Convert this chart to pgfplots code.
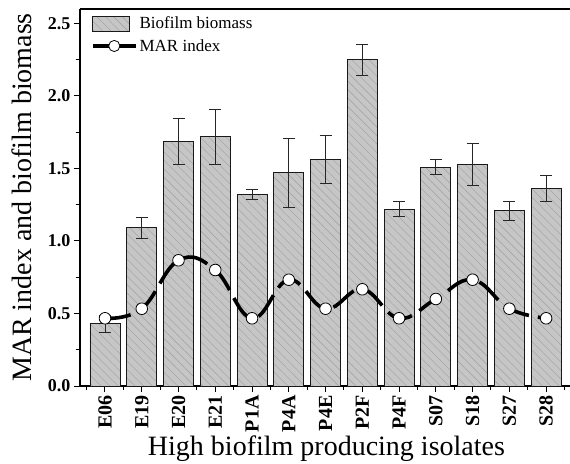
\documentclass[border=0pt]{standalone}
\usepackage{pgfplots}
\pgfplotsset{compat=1.18}
\usepackage{pgfplotstable}
\usepackage{fontspec}
\setmainfont{Liberation Serif}
\usetikzlibrary{patterns.meta}

\pgfplotstableread{
x y e
0 0.43 0.06
1 1.09 0.07
2 1.685 0.16
3 1.72 0.19
4 1.32 0.035
5 1.47 0.24
6 1.56 0.165
7 2.25 0.105
8 1.22 0.05
9 1.51 0.05
10 1.525 0.145
11 1.21 0.065
12 1.36 0.09
}\biofilm

\pgfplotstableread{
x y
0 0.467
1 0.533
2 0.867
3 0.800
4 0.467
5 0.733
6 0.533
7 0.667
8 0.467
9 0.600
10 0.733
11 0.533
12 0.467
}\mar

\pgfplotsset{
  barlegend/.style={legend image code/.code={\draw[##1, line width=0.6pt] (0pt,-7.5pt) rectangle (37pt,7.5pt);}},
  linelegend/.style={legend image code/.code={%
    \draw[black, line width=3.6pt] (0pt,0pt) -- (43pt,0pt);
    \draw[black, line width=0.8pt, fill=white] (21.5pt,0pt) circle (5.6pt);}},
}

\begin{document}
\begin{tikzpicture}
\useasboundingbox (-80pt,-77pt) rectangle (490pt,386pt);
\begin{axis}[
  at={(0pt,0pt)}, anchor=south west,
  scale only axis, width=490pt, height=377pt,
  xmin=-0.68, xmax=12.65, ymin=0, ymax=2.6,
  axis x line*=bottom, axis y line*=left,
  axis line style={line width=1.2pt, -},
  xtick={0,...,12},
  xticklabels={E06,E19,E20,E21,P1A,P4A,P4E,P2F,P4F,S07,S18,S27,S28},
  minor xtick={-0.5,0.5,...,12.5},
  ytick={0,0.5,...,2.5},
  minor ytick={0.25,0.75,...,2.25},
  tick align=outside,
  major tick length=6pt, minor tick length=3.5pt,
  every tick/.style={line width=1pt, black},
  x tick label style={font=\fontsize{20}{22}\selectfont\bfseries, rotate=90, anchor=east},
  y tick label style={font=\fontsize{18}{20}\selectfont\bfseries},
  yticklabel={\pgfmathprintnumber[fixed, fixed zerofill, precision=1, assume math mode=true]{\tick}},
  ylabel={MAR index and biofilm biomass},
  xlabel={High biofilm producing isolates},
  label style={font=\fontsize{28}{30}\selectfont},
  ylabel style={at={(axis description cs:-0.118,0.5)}, anchor=center},
  xlabel style={at={(axis description cs:0.503,-0.166)}, anchor=center},
  legend style={at={(rel axis cs:0.022,0.985)}, anchor=north west, draw=none, fill=none,
    font=\fontsize{17}{19}\selectfont, row sep=5pt, inner sep=0pt},
  legend cell align=left,
]
\draw[line width=1.2pt] (rel axis cs:0,1) -- (rel axis cs:1,1);

\addplot[ybar, bar width=30pt, draw=gray!20!black, line width=0.9pt, fill=gray!45,
  postaction={pattern={Lines[angle=-45,distance=6pt,line width=0.4pt]}, pattern color=gray!75},
  barlegend]
  table[x=x, y=y] {\biofilm};
\addlegendentry{Biofilm biomass}

\addplot[forget plot, draw=none, mark=none,
  error bars/.cd, y dir=both, y explicit,
  error bar style={line width=0.8pt, gray!30!black},
  error mark options={rotate=90, mark size=6pt, line width=0.8pt, gray!30!black}]
  table[x=x, y=y, y error=e] {\biofilm};

\addplot[forget plot, mark=none, black, line width=3.6pt,
  dash pattern=on 26pt off 9pt, smooth, tension=0.7]
  table[x=x, y=y] {\mar};

\addplot[only marks, mark=*, mark size=5.8pt,
  mark options={solid, fill=white, draw=black, line width=0.8pt},
  linelegend]
  table[x=x, y=y] {\mar};
\addlegendentry{MAR index}
\end{axis}
\end{tikzpicture}
\end{document}
